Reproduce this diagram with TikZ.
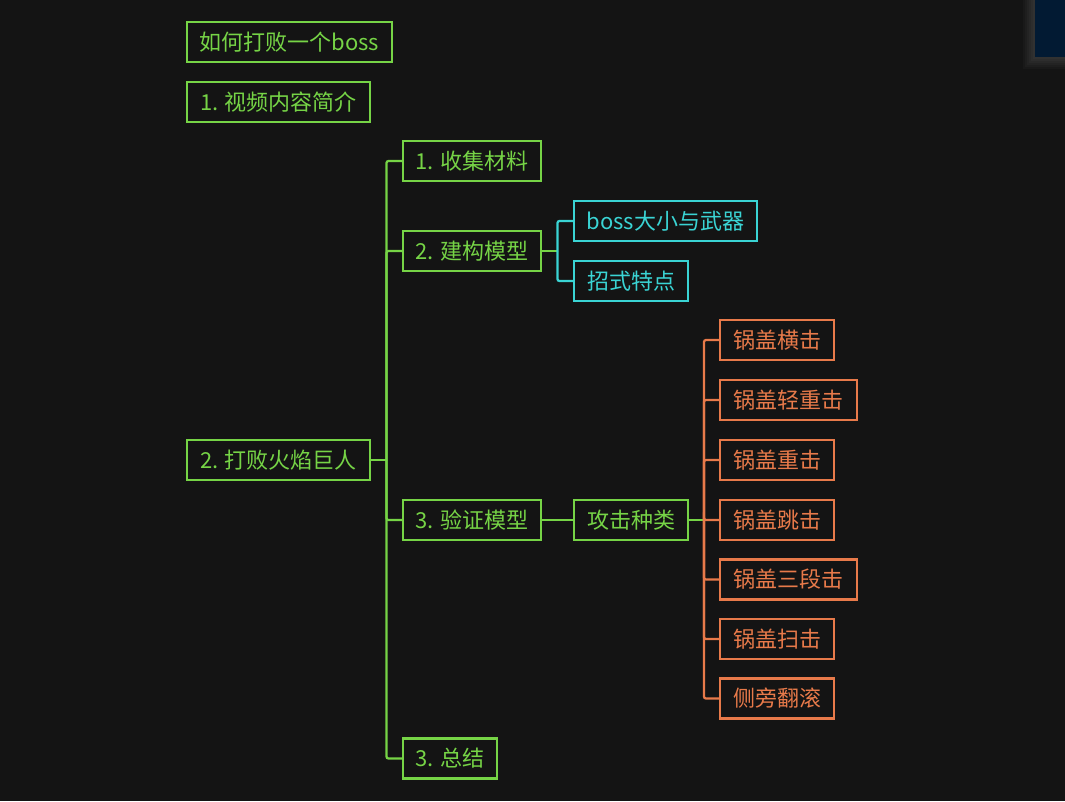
\documentclass[tikz,border=0pt]{standalone}
\usepackage{fontspec}
\setmainfont{Noto Sans CJK SC}
\definecolor{bgc}{HTML}{141414}
\definecolor{gr}{HTML}{76D446}
\definecolor{cy}{HTML}{3AD4D4}
\definecolor{og}{HTML}{E87A4A}
\definecolor{navy}{HTML}{021A33}
\begin{document}
\begin{tikzpicture}[x=0.75pt,y=-0.75pt,
  box/.style={draw, line width=1.7pt, minimum height=30pt, inner sep=0pt, anchor=center,
    font=\fontsize{16.5}{18}\selectfont},
  gbox/.style={box, draw=gr, text=gr},
  cbox/.style={box, draw=cy, text=cy},
  obox/.style={box, draw=og, text=og},
  link/.style={line width=1.7pt, rounded corners=1.5pt}]
\fill[bgc] (0,0) rectangle (1065,801);
\useasboundingbox (0,0) rectangle (1065,801);
% soft shadow of the top-right panel
\foreach \d in {12,10,8,6,4,2}
  \fill[white, opacity=0.025] (1035-\d,0) rectangle (1065,57+\d);
\fill[navy] (1035,0) rectangle (1065,57);
% top-level
\node[gbox, minimum width=153.75pt] (t0) at (289.5,42) {如何打败一个boss};
\node[gbox, minimum width=137.25pt] (t1) at (278.5,102) {1. 视频内容简介};
\node[gbox, minimum width=137.25pt] (t2) at (278.5,460) {2. 打败火焰巨人};
% second level
\node[gbox, minimum width=103.5pt] (c1) at (472,161) {1. 收集材料};
\node[gbox, minimum width=103.5pt] (c2) at (472,251) {2. 建构模型};
\node[gbox, minimum width=103.5pt] (c3) at (472,520) {3. 验证模型};
\node[gbox, minimum width=70.5pt] (c4) at (450,758.5) {3. 总结};
% third level
\node[cbox, minimum width=137.25pt] (d1) at (665.5,221) {boss大小与武器};
\node[cbox, minimum width=85.5pt] (d2) at (631,281) {招式特点};
\node[gbox, minimum width=85.5pt] (d3) at (631,520) {攻击种类};
% fourth level
\node[obox, minimum width=85.5pt] (e1) at (777,340) {锅盖横击};
\node[obox, minimum width=102.75pt] (e2) at (788.5,400) {锅盖轻重击};
\node[obox, minimum width=85.5pt] (e3) at (777,460) {锅盖重击};
\node[obox, minimum width=85.5pt] (e4) at (777,520) {锅盖跳击};
\node[obox, minimum width=102.75pt] (e5) at (788.5,579.5) {锅盖三段击};
\node[obox, minimum width=85.5pt] (e6) at (777,639) {锅盖扫击};
\node[obox, minimum width=85.5pt] (e7) at (777,698.5) {侧旁翻滚};
% junctions
\coordinate (j1) at (386.5,460);
\coordinate (j2) at (557.5,251);
\coordinate (j3) at (704,520);
% connectors level 1
\draw[link, gr] (t2.east) -- (j1);
\foreach \c in {c1,c2,c3,c4} \draw[link, gr] (j1) |- (\c.west);
% connectors to cyan
\draw[link, gr] (c2.east) -- (j2);
\foreach \c in {d1,d2} \draw[link, cy] (j2) |- (\c.west);
% 验证模型 -> 攻击种类
\draw[link, gr] (c3.east) -- (d3.west);
% orange
\draw[link, gr] (d3.east) -- (j3);
\foreach \c in {e1,e2,e3,e4,e5,e6,e7} \draw[link, og] (j3) |- (\c.west);
\end{tikzpicture}
\end{document}
